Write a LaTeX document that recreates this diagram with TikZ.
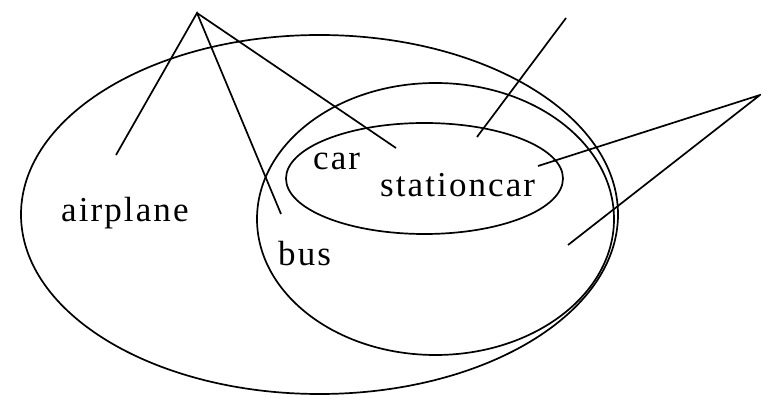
\documentclass[tikz,border=0pt]{standalone}
\usepackage{fontspec}
\setmainfont{Liberation Serif}[LetterSpace=6]
\begin{document}
\begin{tikzpicture}[x=1pt,y=-1pt,
  set/.style={draw=black,line width=1.7pt},
  lead/.style={draw=black,line width=1.7pt},
  lbl/.style={anchor=base west,inner sep=0pt,font=\fontsize{35}{40}\selectfont}]
\useasboundingbox (0,0) rectangle (761,395);
% sets
\draw[set] (319.5,214.5) ellipse [x radius=298.5, y radius=179.5];
\draw[set] (435.5,219) ellipse [x radius=178.5, y radius=136];
\draw[set] (424.5,178.5) ellipse [x radius=138.5, y radius=55.5];
% labels
\node[lbl] (airplane) at (61,222) {airplane};
\node[lbl] (car) at (313,170) {car};
\node[lbl] (stationcar) at (380,197) {stationcar};
\node[lbl] (bus) at (278,266) {bus};
% leader points
\coordinate (a1) at (197,13);
\coordinate (a2) at (566,18);
\coordinate (a3) at (760,95);
\coordinate (e1) at (116,155);
\coordinate (e2) at (281,214);
\coordinate (e3) at (396,148);
\coordinate (e4) at (477,137);
\coordinate (e5) at (538,166);
\coordinate (e6) at (568,245);
\draw[lead] (e1) -- (a1) -- (e2);
\draw[lead] (a1) -- (e3);
\draw[lead] (a2) -- (e4);
\draw[lead] (e5) -- (a3) -- (e6);
\end{tikzpicture}
\end{document}
